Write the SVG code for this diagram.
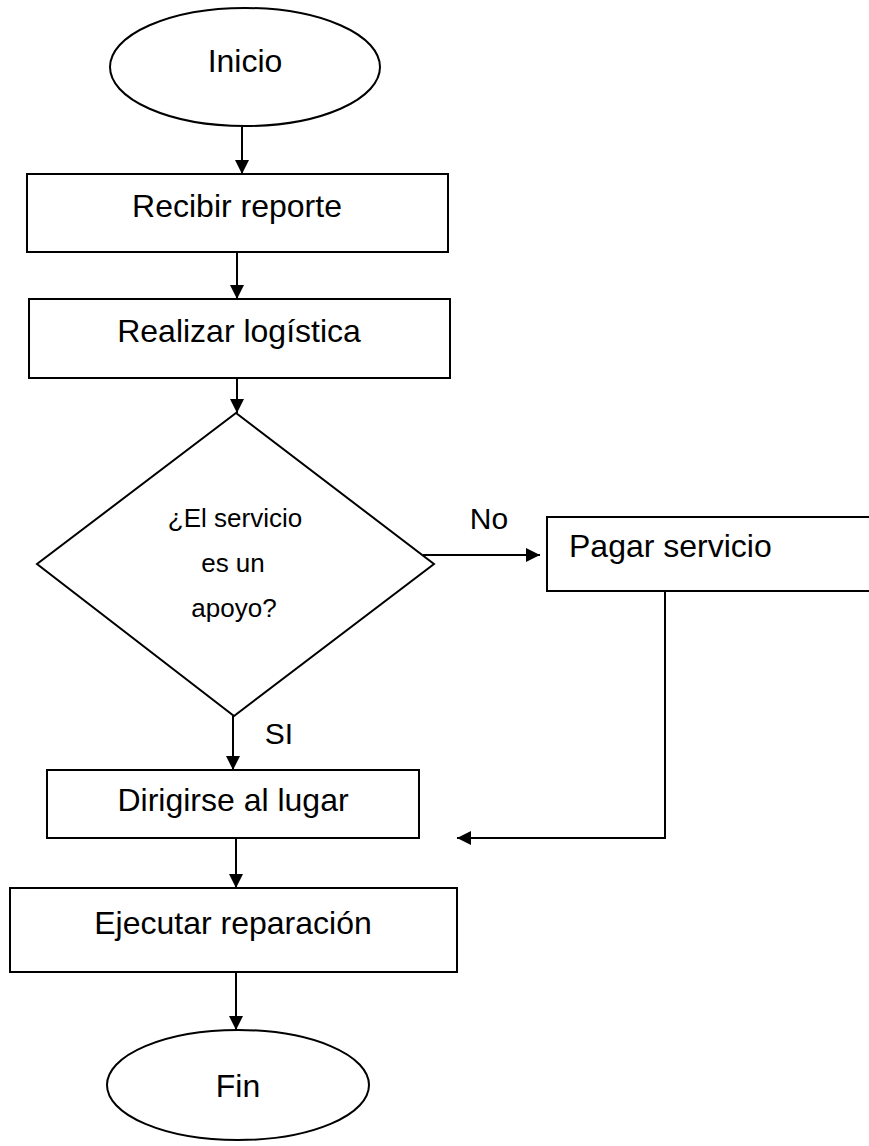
<svg xmlns="http://www.w3.org/2000/svg" width="869" height="1146" viewBox="0 0 869 1146">
<defs>
<style>
.s{fill:#fff;stroke:#000;stroke-width:2}
.c{fill:none;stroke:#000;stroke-width:2}
.t{font-family:"Liberation Sans",Arial,sans-serif;font-size:32px;fill:#000}
.d{font-family:"Liberation Sans",Arial,sans-serif;font-size:26px;fill:#000}
</style>
<marker id="ah" markerWidth="14" markerHeight="14" viewBox="0 0 14 14" refX="14" refY="7" orient="auto" markerUnits="userSpaceOnUse">
<path d="M0,0 L14,7 L0,14 Z" fill="#000"/>
</marker>
</defs>
<g id="connectors">
<line class="c" x1="242" y1="127" x2="242" y2="174" marker-end="url(#ah)"/>
<line class="c" x1="237" y1="252" x2="237" y2="299" marker-end="url(#ah)"/>
<line class="c" x1="237" y1="378" x2="237" y2="413" marker-end="url(#ah)"/>
<line class="c" x1="423" y1="555" x2="540" y2="555" marker-end="url(#ah)"/>
<line class="c" x1="233" y1="716" x2="233" y2="770" marker-end="url(#ah)"/>
<line class="c" x1="236" y1="838" x2="236" y2="888" marker-end="url(#ah)"/>
<line class="c" x1="236" y1="972" x2="236" y2="1030" marker-end="url(#ah)"/>
<polyline class="c" points="665,591 665,838 457,838" marker-end="url(#ah)"/>
</g>
<g id="inicio">
<ellipse class="s" cx="245" cy="67" rx="135" ry="59"/>
<text class="t" x="245" y="72" text-anchor="middle">Inicio</text>
</g>
<g id="recibir">
<rect class="s" x="27" y="174" width="421" height="78"/>
<text class="t" x="237" y="217" text-anchor="middle">Recibir reporte</text>
</g>
<g id="realizar">
<rect class="s" x="29" y="299" width="421" height="79"/>
<text class="t" x="239" y="342" text-anchor="middle">Realizar logística</text>
</g>
<g id="decision">
<polygon class="s" points="236,413 434,564 234,716 37,564"/>
<text class="d" x="235" y="527" text-anchor="middle">¿El servicio</text>
<text class="d" x="233" y="572" text-anchor="middle">es un</text>
<text class="d" x="234" y="617" text-anchor="middle">apoyo?</text>
</g>
<g id="label-no">
<text class="t" x="489" y="529" text-anchor="middle" style="font-size:30px">No</text>
</g>
<g id="label-si">
<text class="t" x="279" y="744" text-anchor="middle" style="font-size:30px">SI</text>
</g>
<g id="pagar">
<rect class="s" x="547" y="517" width="340" height="74"/>
<text class="t" x="569" y="557">Pagar servicio</text>
</g>
<g id="dirigirse">
<rect class="s" x="47" y="770" width="372" height="68"/>
<text class="t" x="233" y="811" text-anchor="middle">Dirigirse al lugar</text>
</g>
<g id="ejecutar">
<rect class="s" x="10" y="888" width="447" height="84"/>
<text class="t" x="233" y="934" text-anchor="middle">Ejecutar reparación</text>
</g>
<g id="fin">
<ellipse class="s" cx="238" cy="1085" rx="131" ry="55"/>
<text class="t" x="238" y="1097" text-anchor="middle">Fin</text>
</g>
</svg>
